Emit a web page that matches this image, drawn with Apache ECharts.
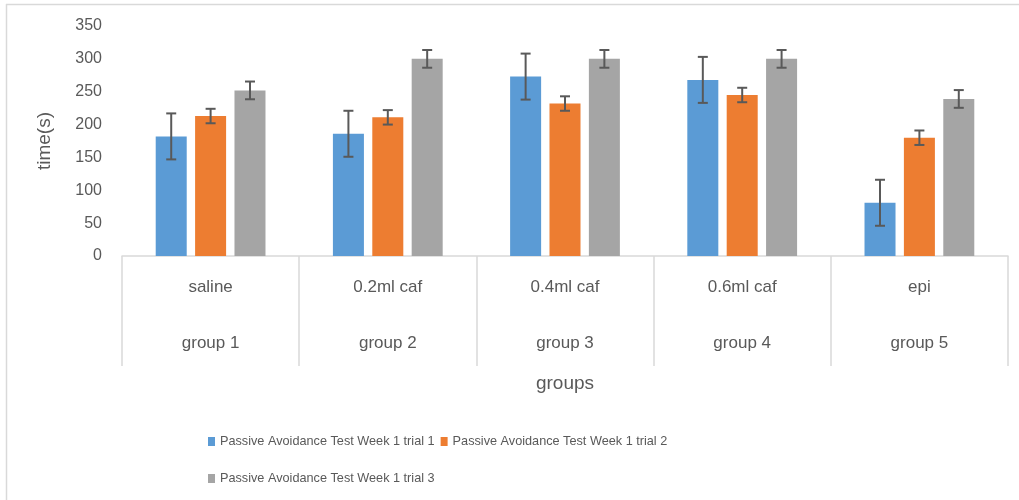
<!DOCTYPE html>
<html>
<head>
<meta charset="utf-8">
<script src="https://cdn.jsdelivr.net/npm/echarts@6/dist/echarts.min.js"></script>
<style>
html,body{margin:0;padding:0;background:#fff;}
#chart{width:1019px;height:500px;}
</style>
</head>
<body>
<div id="chart"></div>
<script>
const categories = ['saline', '0.2ml caf', '0.4ml caf', '0.6ml caf', 'epi'];
const groups = ['group 1', 'group 2', 'group 3', 'group 4', 'group 5'];
const seriesNames = [
  'Passive Avoidance Test Week 1 trial 1',
  'Passive Avoidance Test Week 1 trial 2',
  'Passive Avoidance Test Week 1 trial 3'
];
const trial1 = [182, 186, 273, 268, 81];
const trial2 = [213, 211, 232, 245, 180];
const trial3 = [252, 300, 300, 300, 239];
const err1 = [35, 35, 35, 35, 35];
const err2 = [11, 11, 11, 11, 11];
const err3 = [13.5, 13.5, 13.5, 13.5, 13.5];
const yMin = 0, yMax = 350, yInterval = 50;

const colors = ['#5B9BD5', '#ED7D31', '#A5A5A5'];
const means = [trial1, trial2, trial3];
const errs = [err1, err2, err3];
const BAR_W = 0.175;   // fraction of band width
const BAR_GAP = 0.27;  // fraction of bar width
const textColor = '#595959';
const FONT = 'Liberation Sans';

const barSeries = seriesNames.map((name, s) => ({
  name: name,
  type: 'bar',
  xAxisIndex: 0,
  barWidth: (BAR_W * 100) + '%',
  barGap: (BAR_GAP * 100) + '%',
  itemStyle: { color: colors[s] },
  data: means[s]
}));

const errSeries = seriesNames.map((name, s) => ({
  type: 'custom',
  xAxisIndex: 0,
  z: 10,
  silent: true,
  data: categories.map((c, i) => [i, means[s][i] - errs[s][i], means[s][i] + errs[s][i]]),
  renderItem: function (params, api) {
    const idx = api.value(0);
    const lo = api.coord([idx, api.value(1)]);
    const hi = api.coord([idx, api.value(2)]);
    const band = api.size([1, 0])[0];
    const bw = band * BAR_W;
    const gap = bw * BAR_GAP;
    const total = 3 * bw + 2 * gap;
    const x = lo[0] - total / 2 + bw / 2 + s * (bw + gap);
    const cap = 5;
    const st = { stroke: '#595959', lineWidth: 2 };
    return {
      type: 'group',
      children: [
        { type: 'line', shape: { x1: x, y1: lo[1], x2: x, y2: hi[1] }, style: st },
        { type: 'line', shape: { x1: x - cap, y1: hi[1], x2: x + cap, y2: hi[1] }, style: st },
        { type: 'line', shape: { x1: x - cap, y1: lo[1], x2: x + cap, y2: lo[1] }, style: st }
      ]
    };
  }
}));

const chart = echarts.init(document.getElementById('chart'), null, { renderer: 'canvas' });
chart.setOption({
  animation: false,
  backgroundColor: '#fff',
  textStyle: { fontFamily: FONT, color: textColor },
  grid: { left: 122, right: 11, top: 26, bottom: 244, containLabel: false },
  legend: {
    data: seriesNames,
    left: 203,
    top: 421,
    width: 475,
    itemGap: 6,
    itemWidth: 7,
    itemHeight: 9,
    icon: 'rect',
    textStyle: { fontFamily: FONT, fontSize: 12.7, color: textColor, lineHeight: 31 }
  },
  xAxis: [
    {
      type: 'category',
      data: categories,
      position: 'bottom',
      axisLine: { lineStyle: { color: '#d9d9d9', width: 1.5 } },
      axisTick: { show: true, length: 110, lineStyle: { color: '#d9d9d9', width: 1.5 } },
      axisLabel: { margin: 21, fontSize: 17, lineHeight: 20, color: textColor, fontFamily: FONT }
    },
    {
      type: 'category',
      data: groups,
      position: 'bottom',
      axisLine: { show: false },
      axisTick: { show: false },
      axisLabel: { margin: 77, fontSize: 17, lineHeight: 20, color: textColor, fontFamily: FONT },
      name: 'groups',
      nameLocation: 'middle',
      nameGap: 118,
      nameTextStyle: { fontSize: 19, color: textColor, fontFamily: FONT }
    }
  ],
  yAxis: {
    type: 'value',
    min: yMin,
    max: yMax,
    interval: yInterval,
    axisLine: { show: false },
    axisTick: { show: false },
    splitLine: { show: false },
    axisLabel: { margin: 20, fontSize: 16, color: textColor, fontFamily: FONT },
    name: 'time(s)',
    nameLocation: 'middle',
    nameGap: 68,
    nameTextStyle: { fontSize: 19, color: textColor, fontFamily: FONT }
  },
  graphic: [
    { type: 'line', shape: { x1: 6, y1: 4.5, x2: 1019, y2: 4.5 }, style: { stroke: '#d9d9d9', lineWidth: 1.5 } },
    { type: 'line', shape: { x1: 6.5, y1: 4, x2: 6.5, y2: 500 }, style: { stroke: '#d9d9d9', lineWidth: 1.5 } }
  ],
  series: barSeries.concat(errSeries)
});
</script>
</body>
</html>
